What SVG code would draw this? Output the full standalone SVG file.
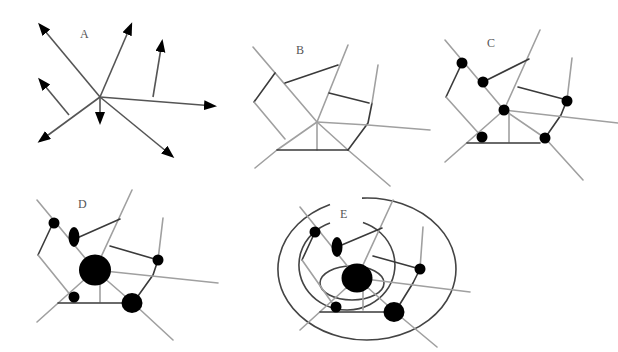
<svg xmlns="http://www.w3.org/2000/svg" width="618" height="352" viewBox="0 0 618 352">
<style>
.g{stroke:#a0a0a0;stroke-width:1.6;fill:none;stroke-linecap:round;stroke-linejoin:round}
.d{stroke:#3a3a3a;stroke-width:1.6;fill:none;stroke-linecap:round;stroke-linejoin:round}
.a{stroke:#555;stroke-width:1.6;fill:none;marker-end:url(#ah)}
.c{stroke:#444;stroke-width:1.6;fill:none}
.n{fill:#000}
.t{font-family:"Liberation Serif",serif;font-size:12px;fill:#555}
</style>
<defs>
<marker id="ah" markerUnits="userSpaceOnUse" markerWidth="14" markerHeight="11" refX="10" refY="5" orient="auto">
<path d="M0,0 L13,5 L0,10 z" fill="#000"/>
</marker>
</defs>
<rect width="618" height="352" fill="#fff"/>

<g id="panelA">
<text class="t" x="80" y="38">A</text>
<g id="A-connectors">
<line class="a" x1="100" y1="97" x2="40" y2="25"/>
<line class="a" x1="100" y1="97" x2="131" y2="25"/>
<line class="a" x1="153" y1="97" x2="162" y2="42"/>
<line class="a" x1="69" y1="115" x2="40" y2="80"/>
<line class="a" x1="100" y1="97" x2="40" y2="141"/>
<line class="a" x1="100" y1="97" x2="100" y2="122"/>
<line class="a" x1="100" y1="97" x2="214" y2="106"/>
<line class="a" x1="100" y1="97" x2="172" y2="156"/>
</g>
</g>

<g id="panelB">
<text class="t" x="296" y="54">B</text>
<g id="B-connectors">
<polyline class="g" points="253,47 317,122 348,150 390,186"/>
<line class="g" x1="317" y1="122" x2="348" y2="45"/>
<polyline class="g" points="255,168 277,150 317,122"/>
<line class="g" x1="317" y1="122" x2="317" y2="150"/>
<line class="d" x1="277" y1="150" x2="348" y2="150"/>
<polyline class="d" points="348,150 368,123 372,103"/>
<line class="g" x1="372" y1="103" x2="378" y2="65"/>
<polyline class="g" points="317,122 368,125 430,130"/>
<line class="d" x1="329" y1="93" x2="369" y2="103"/>
<line class="d" x1="285" y1="83" x2="338" y2="65"/>
<line class="d" x1="275" y1="73" x2="254" y2="102"/>
<line class="g" x1="254" y1="102" x2="285" y2="139"/>
</g>
</g>

<g id="panelC">
<text class="t" x="487" y="47">C</text>
<g id="C-connectors">
<polyline class="g" points="445,40 504,110 545,138 583,180"/>
<line class="g" x1="504" y1="110" x2="540" y2="30"/>
<line class="d" x1="483" y1="82" x2="529" y2="59"/>
<line class="d" x1="518" y1="87" x2="567" y2="100"/>
<line class="g" x1="572" y1="58" x2="567" y2="100"/>
<polyline class="d" points="567,100 561,115 545,138"/>
<line class="g" x1="504" y1="110" x2="618" y2="123"/>
<line class="g" x1="509" y1="112" x2="509" y2="142"/>
<line class="g" x1="504" y1="110" x2="445" y2="162"/>
<line class="d" x1="467" y1="143" x2="540" y2="143"/>
<line class="d" x1="462" y1="63" x2="446" y2="97"/>
<line class="g" x1="446" y1="97" x2="482" y2="137"/>
</g>
<g id="C-nodes">
<circle class="n" cx="462" cy="63" r="5.5"/>
<circle class="n" cx="483" cy="82" r="5.5"/>
<circle class="n" cx="504" cy="110" r="5.5"/>
<circle class="n" cx="567" cy="101" r="5.5"/>
<circle class="n" cx="482" cy="137" r="5.5"/>
<circle class="n" cx="545" cy="138" r="5.5"/>
</g>
</g>

<g id="panelD">
<text class="t" x="78" y="208">D</text>
<g id="D-connectors">
<polyline class="g" points="37,200 95,270 133,303 173,340"/>
<line class="g" x1="95" y1="270" x2="132" y2="190"/>
<line class="d" x1="77" y1="238" x2="120" y2="219"/>
<line class="d" x1="110" y1="246" x2="158" y2="260"/>
<line class="g" x1="163" y1="218" x2="158" y2="260"/>
<polyline class="d" points="158,260 153,275 133,303"/>
<line class="g" x1="95" y1="270" x2="218" y2="283"/>
<line class="g" x1="100" y1="272" x2="100" y2="302"/>
<line class="g" x1="95" y1="270" x2="37" y2="322"/>
<line class="d" x1="58" y1="303" x2="132" y2="303"/>
<line class="d" x1="53" y1="223" x2="38" y2="255"/>
<line class="g" x1="38" y1="255" x2="72" y2="297"/>
</g>
<g id="D-nodes">
<circle class="n" cx="54" cy="223" r="5.5"/>
<ellipse class="n" cx="74" cy="237" rx="5.5" ry="10"/>
<ellipse class="n" cx="95" cy="270" rx="16" ry="15.5"/>
<circle class="n" cx="158" cy="260" r="5.5"/>
<circle class="n" cx="74" cy="297" r="5.5"/>
<ellipse class="n" cx="132" cy="303" rx="10.5" ry="10"/>
</g>
</g>

<g id="panelE">
<text class="t" x="340" y="218">E</text>
<g id="E-rings">
<path class="c" d="M362,198.1 A89,71 0 1,1 330,204.4"/>
<path class="c" d="M363,222.6 A48,45 0 1,1 330,222.9"/>
<ellipse class="c" cx="352" cy="283" rx="32" ry="17"/>
</g>
<g id="E-connectors">
<polyline class="g" points="300,207 357,278 395,312 437,347"/>
<line class="g" x1="357" y1="278" x2="393" y2="200"/>
<line class="d" x1="337" y1="247" x2="382" y2="228"/>
<line class="d" x1="373" y1="256" x2="420" y2="269"/>
<line class="g" x1="423" y1="227" x2="420" y2="269"/>
<polyline class="d" points="420,269 413,283 395,312"/>
<line class="g" x1="357" y1="278" x2="470" y2="292"/>
<line class="g" x1="363" y1="280" x2="363" y2="310"/>
<line class="g" x1="357" y1="278" x2="300" y2="330"/>
<line class="d" x1="320" y1="312" x2="395" y2="312"/>
<polyline class="d" points="315,232 302,260"/>
<line class="g" x1="302" y1="260" x2="335" y2="307"/>
</g>
<g id="E-nodes">
<circle class="n" cx="315" cy="232" r="5.5"/>
<ellipse class="n" cx="337" cy="247" rx="5.5" ry="10"/>
<ellipse class="n" cx="357" cy="278" rx="15.5" ry="14.5"/>
<circle class="n" cx="420" cy="269" r="5.5"/>
<circle class="n" cx="336" cy="307" r="5.5"/>
<ellipse class="n" cx="394" cy="312" rx="10.5" ry="10"/>
</g>
</g>
</svg>
